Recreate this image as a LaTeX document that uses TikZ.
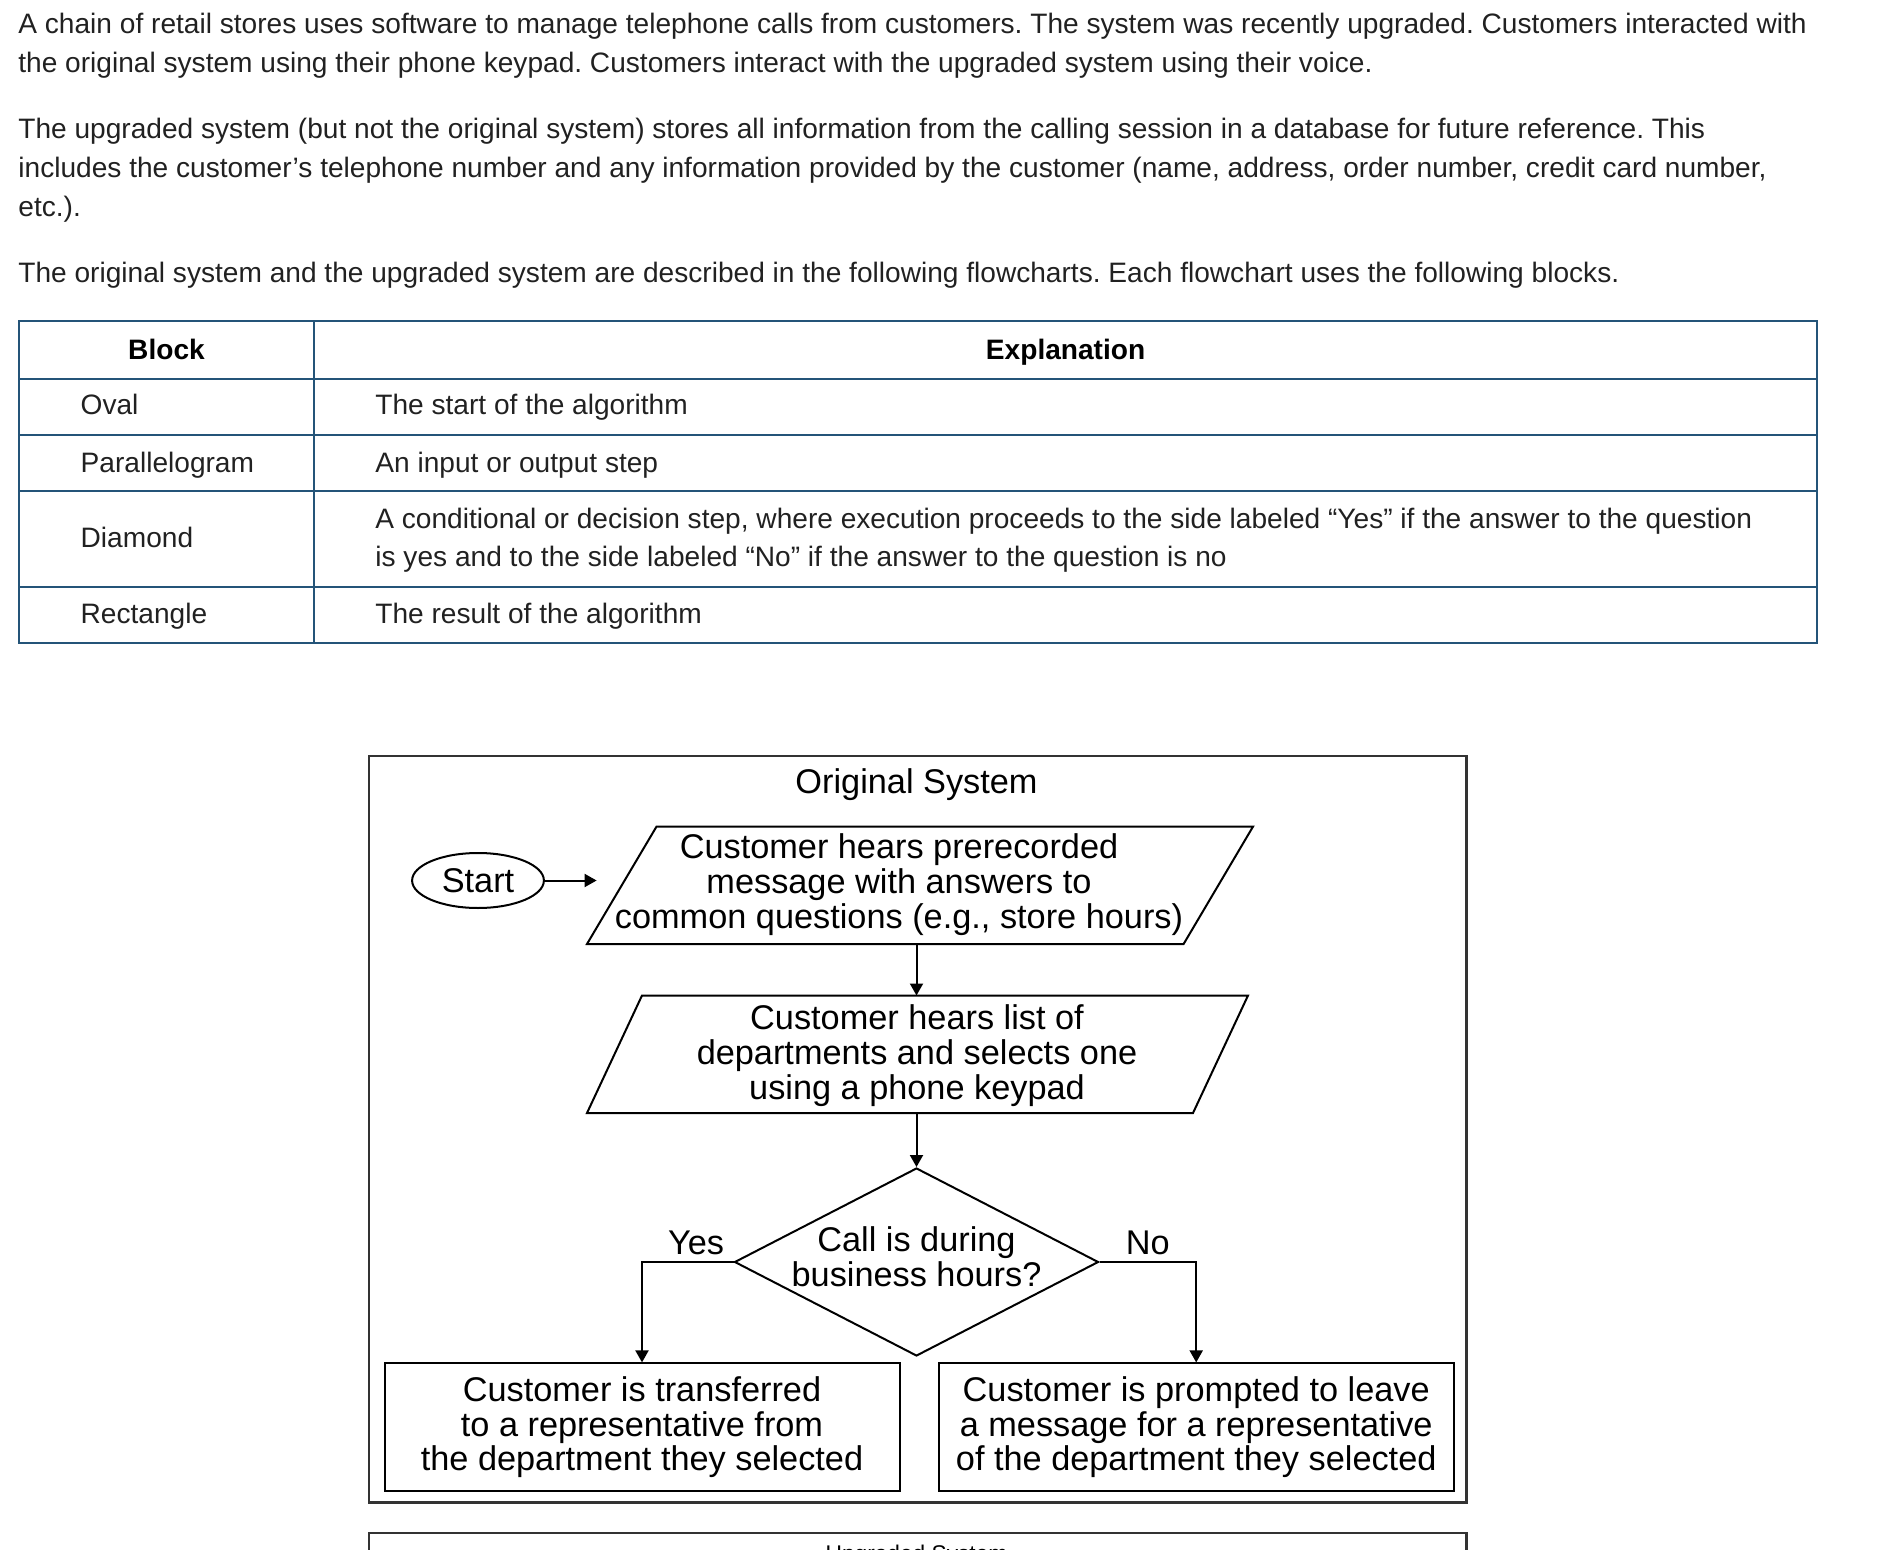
\documentclass[tikz,border=0pt]{standalone}
\usepackage{fontspec}
\setmainfont{Liberation Sans}
\frenchspacing
\usetikzlibrary{shapes.geometric,arrows.meta,positioning}
\definecolor{tblue}{RGB}{36,84,120}
\definecolor{bodygray}{RGB}{33,33,33}
\tikzset{>={Triangle[length=6pt,width=6.5pt]},
  body/.style={anchor=base west, inner sep=0pt, text=bodygray, font=\fontsize{14.05}{19.5}\selectfont},
  hdr/.style={anchor=base, inner sep=0pt, text=black, font=\fontsize{14.05}{19.5}\selectfont\bfseries},
  tline/.style={draw=tblue, line width=1pt},
  flowfont/.style={font=\fontsize{17.15}{17.35}\selectfont},
  flowtxt/.style={flowfont, align=center, inner sep=0pt},
  ioline/.style={draw, line width=1pt, line join=miter},
  decbox/.style={diamond, draw, line width=1pt, inner sep=0pt, minimum width=182pt, minimum height=94pt},
  resbox/.style={rectangle, draw, line width=1pt, flowfont, align=center, inner sep=0pt, minimum width=257.5pt, minimum height=64pt},
  startbox/.style={ellipse, draw, line width=1pt, flowfont, inner sep=0pt, minimum width=65.9pt, minimum height=27.5pt},
  conn/.style={->, line width=1pt},
  sysframe/.style={draw=black!80, line width=1.3pt}
}
\begin{document}
\begin{tikzpicture}[x=0.5pt,y=-0.5pt]
\useasboundingbox (0,0) rectangle (1878,1550);
\clip (0,0) rectangle (1878,1550);

% introduction text
\foreach \y/\txt [count=\i] in {
  34/{A chain of retail stores uses software to manage telephone calls from customers. The system was recently upgraded. Customers interacted with},
  72.5/{the original system using their phone keypad. Customers interact with the upgraded system using their voice.},
  138.5/{The upgraded system (but not the original system) stores all information from the calling session in a database for future reference. This},
  177.5/{includes the customer’s telephone number and any information provided by the customer (name, address, order number, credit card number,},
  216.5/{etc.).},
  282.5/{The original system and the upgraded system are described in the following flowcharts. Each flowchart uses the following blocks.}}
  \node[body] (intro\i) at (18,\y) {\txt};

% table of blocks
\draw[tline] (19.2,321) rectangle (1817.4,643.3);
\draw[tline] (313.9,321) -- (313.9,643.3);
\foreach \y in {378.6,434.9,491.2,587}
  \draw[tline] (19.2,\y) -- (1817.4,\y);
\node[hdr] (hblock) at (166.5,360) {Block};
\node[hdr] (hexpl) at (1065.6,360) {Explanation};
\foreach \y/\blk/\expl [count=\i] in {
  414.5/Oval/{The start of the algorithm},
  473/Parallelogram/{An input or output step},
  623.5/Rectangle/{The result of the algorithm}}
{
  \node[body] (blk\i) at (80.3,\y) {\blk};
  \node[body] (expl\i) at (375,\y) {\expl};
}
\node[body] (blkdia) at (80.3,548) {Diamond};
\node[body] (expldia1) at (375,529) {A conditional or decision step, where execution proceeds to the side labeled “Yes” if the answer to the question};
\node[body] (expldia2) at (375,567) {is yes and to the side labeled “No” if the answer to the question is no};

% original system
\draw[sysframe] (369,756) rectangle (1466.4,1502.3);
\node[flowfont, anchor=base, inner sep=0pt] (otitle) at (916.5,793) {Original System};

\node[startbox] (start) at (478,880.5) {Start};
\coordinate (startend) at (596.6,880.5);

\draw[ioline]
  (587,944) coordinate (msgBL) --
  (656.5,826.6) coordinate (msgTL) --
  (1253,826.6) coordinate (msgTR) --
  (1183.6,944) coordinate (msgBR) -- cycle;
\coordinate (msgbot) at (916.5,944);
\node[flowtxt] (msg) at (899,884.5) {Customer hears prerecorded\\message with answers to\\common questions (e.g., store hours)};

\draw[ioline]
  (587,1113) coordinate (keysBL) --
  (642,995.5) coordinate (keysTL) --
  (1248,995.5) coordinate (keysTR) --
  (1193,1113) coordinate (keysBR) -- cycle;
\coordinate (keystop) at (916.5,995.5);
\coordinate (keysbot) at (916.5,1113);
\node[flowtxt] (keys) at (917,1055.5) {Customer hears list of\\departments and selects one\\using a phone keypad};

\node[decbox] (dec) at (916.5,1262) {};
\node[flowtxt] (dectxt) at (916.5,1257) {Call is during\\business hours?};
\node[resbox] (trans) at (642,1427.4) {Customer is transferred\\to a representative from\\the department they selected};
\node[resbox] (prompt) at (1196.2,1427.4) {Customer is prompted to leave\\a message for a representative\\of the department they selected};
\node[flowfont, anchor=base, inner sep=0pt] (yes) at (696,1254) {Yes};
\node[flowfont, anchor=base, inner sep=0pt] (no) at (1147.7,1254) {No};

\draw[conn] (start.east) -- (startend);
\draw[conn] (msgbot) -- (keystop);
\draw[conn] (keysbot) -- (dec.north);
\draw[conn] (dec.west) -| (trans.north);
\draw[conn] (dec.east) -| (prompt.north);

% upgraded system (cut off)
\draw[sysframe] (369,1533) rectangle (1466.4,1640);
\node[font=\fontsize{11.35}{12}\selectfont, anchor=base, inner sep=0pt] (utitle) at (916.5,1561) {Upgraded System};
\end{tikzpicture}
\end{document}
